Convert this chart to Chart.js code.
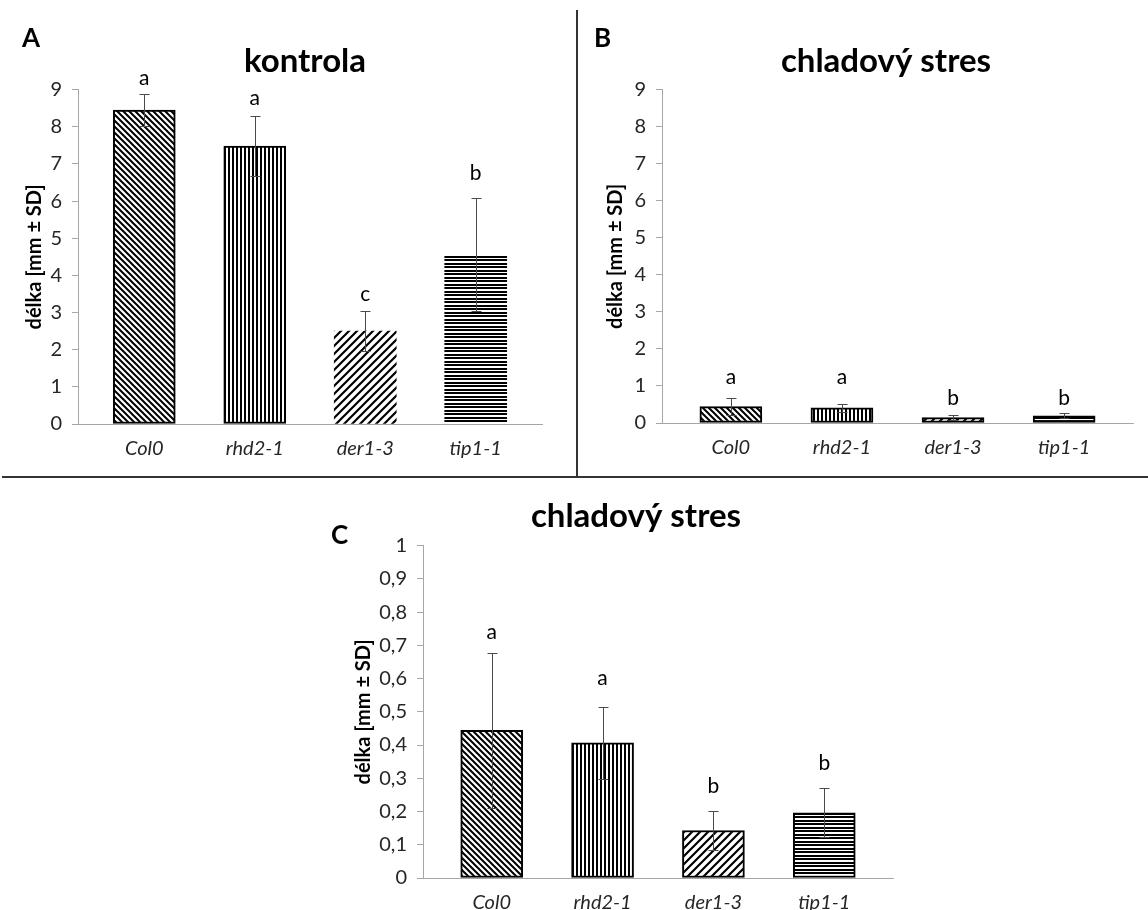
<!DOCTYPE html>
<html><head><meta charset="utf-8">
<script src="https://cdn.jsdelivr.net/npm/chart.js@4.4.1/dist/chart.umd.min.js"></script>
<style>
html,body{margin:0;padding:0;background:#fff;overflow:hidden;width:1148px;height:910px;}
canvas{position:absolute;}
.sep{position:absolute;background:#333;}
.lbl{position:absolute;font-family:Lato,sans-serif;font-weight:bold;font-size:26px;color:#000;line-height:1;}
</style></head><body>
<canvas id="cA" width="577" height="478" style="left:0;top:0"></canvas>
<canvas id="cB" width="571" height="478" style="left:577px;top:0"></canvas>
<canvas id="cC" width="672" height="430" style="left:300px;top:480px"></canvas>
<div class="sep" style="left:576px;top:10px;width:2px;height:468px"></div>
<div class="sep" style="left:2px;top:476px;width:1146px;height:2px"></div>
<div class="lbl" style="left:22px;top:24px">A</div>
<div class="lbl" style="left:594px;top:24px">B</div>
<div class="lbl" style="left:331px;top:521px">C</div>
<script>
// ---- data ----
const categories = ['Col0', 'rhd2-1', 'der1-3', 'tip1-1'];
const kontrolaMean = [8.45, 7.48, 2.50, 4.56];
const kontrolaSD = [0.42, 0.81, 0.54, 1.53];
const kontrolaLetters = ['a', 'a', 'c', 'b'];
const kontrolaLetterY = [9.3, 8.78, 3.5, 6.76];
const chladMean = [0.444, 0.407, 0.143, 0.196];
const chladSD = [0.232, 0.108, 0.060, 0.074];
const chladLetters = ['a', 'a', 'b', 'b'];
const chladLetterYB = [1.24, 1.24, 0.68, 0.68];
const chladLetterYC = [0.738, 0.60, 0.277, 0.346];
const yTicksAB = ['0', '1', '2', '3', '4', '5', '6', '7', '8', '9'];
const yTicksC = ['0', '0,1', '0,2', '0,3', '0,4', '0,5', '0,6', '0,7', '0,8', '0,9', '1'];
const titleA = 'kontrola';
const titleBC = 'chladový stres';
const yTitle = 'délka [mm ± SD]';

// ---- patterns ----
function makePattern(w, h, draw) {
  const c = document.createElement('canvas');
  c.width = w; c.height = h;
  const g = c.getContext('2d');
  g.fillStyle = '#fff'; g.fillRect(0, 0, w, h);
  g.fillStyle = '#000'; g.strokeStyle = '#000';
  draw(g, w, h);
  return g.createPattern(c, 'repeat');
}
const patDiagDown = makePattern(6, 6, (g, s) => {
  g.lineWidth = 2; g.beginPath();
  g.moveTo(-1, -1); g.lineTo(s + 1, s + 1);
  g.moveTo(-1, s - 1); g.lineTo(1, s + 1);
  g.moveTo(s - 1, -1); g.lineTo(s + 1, 1);
  g.stroke();
});
const patVert = makePattern(4, 4, (g) => { g.fillRect(0, 0, 2, 4); });
const patDiagUp = makePattern(8, 8, (g, s) => {
  g.lineWidth = 2.2; g.beginPath();
  g.moveTo(-1, s + 1); g.lineTo(s + 1, -1);
  g.moveTo(-1, 1); g.lineTo(1, -1);
  g.moveTo(s - 1, s + 1); g.lineTo(s + 1, s - 1);
  g.stroke();
});
const patHoriz = makePattern(4, 7, (g) => { g.fillRect(0, 0, 4, 2); g.fillRect(0, 4, 4, 2); });
const fills = [patDiagDown, patVert, patDiagUp, patHoriz];

const FONT = 'Lato, "Open Sans", sans-serif';

function overlayPlugin(means, sds, letters, letterY, titleCenter) {
  return {
    id: 'overlay',
    afterLayout(chart) {
      const tb = chart.titleBlock;
      if (tb) {
        const w = tb.right - tb.left;
        tb.left = titleCenter - w / 2;
        tb.right = titleCenter + w / 2;
      }
    },
    afterDatasetsDraw(chart) {
      const { ctx, scales: { x, y } } = chart;
      ctx.save();
      ctx.strokeStyle = '#4a4a4a';
      ctx.lineWidth = 1;
      means.forEach((m, i) => {
        const px = Math.round(x.getPixelForValue(i)) + 0.5;
        const t = Math.round(y.getPixelForValue(m + sds[i])) + 0.5;
        const b = Math.round(y.getPixelForValue(m - sds[i])) + 0.5;
        ctx.beginPath();
        ctx.moveTo(px, t); ctx.lineTo(px, b);
        ctx.moveTo(px - 5, t); ctx.lineTo(px + 5, t);
        ctx.moveTo(px - 5, b); ctx.lineTo(px + 5, b);
        ctx.stroke();
      });
      ctx.fillStyle = '#000';
      ctx.font = '21px ' + FONT;
      ctx.textAlign = 'center';
      ctx.textBaseline = 'middle';
      letters.forEach((l, i) => {
        ctx.fillText(l, x.getPixelForValue(i), y.getPixelForValue(letterY[i]));
      });
      ctx.restore();
    }
  };
}

function build(id, cfg) {
  const data = categories.map((c, i) => ({ x: i, y: cfg.means[i] }));
  return new Chart(document.getElementById(id), {
    type: 'bar',
    data: {
      datasets: [{
        data: data,
        backgroundColor: fills,
        borderColor: '#000',
        borderWidth: cfg.borders,
        borderSkipped: false,
        barThickness: 62
      }]
    },
    options: {
      responsive: false,
      animation: false,
      devicePixelRatio: 1,
      layout: { padding: { left: 0, right: cfg.padRight, top: 0, bottom: 0 } },
      plugins: {
        legend: { display: false },
        tooltip: { enabled: false },
        title: {
          display: true, text: cfg.title, color: '#000', fullSize: true,
          font: { family: FONT, size: 33, weight: 'bold', lineHeight: 1.2 },
          padding: { top: cfg.titleTop, bottom: cfg.titleBottom }
        }
      },
      scales: {
        x: {
          type: 'linear', offset: false,
          min: cfg.xMin, max: cfg.xMax,
          afterBuildTicks: (s) => { s.ticks = categories.map((c, i) => ({ value: i })); },
          afterFit: (s) => { s.height = cfg.xHeight; },
          ticks: {
            autoSkip: false, maxRotation: 0, padding: 5, color: '#262626',
            font: { family: FONT, size: 20, style: 'italic' },
            callback: (v) => categories[v]
          },
          grid: { display: false },
          border: { display: true, color: '#a6a6a6', width: 1 }
        },
        y: {
          type: 'linear', min: cfg.yMin, max: cfg.yMax,
          afterFit: (s) => { s.width = cfg.yWidth; },
          ticks: {
            stepSize: cfg.step, padding: 10, color: '#262626',
            font: { family: FONT, size: 20 },
            callback: (v, i) => cfg.yLabels[i]
          },
          grid: { display: true, drawOnChartArea: false, drawTicks: true, tickLength: 6, color: '#a6a6a6' },
          border: { display: true, color: '#a6a6a6', width: 1 },
          title: {
            display: true, text: yTitle, color: '#000',
            font: { family: FONT, size: 20, weight: 'bold', lineHeight: 1.2 },
            padding: { top: cfg.yTitlePad, bottom: 0 }
          }
        }
      }
    },
    plugins: [overlayPlugin(cfg.means, cfg.sds, cfg.letters, cfg.letterY, cfg.titleCenter)]
  });
}

build('cA', {
  means: kontrolaMean, sds: kontrolaSD, letters: kontrolaLetters, letterY: kontrolaLetterY,
  borders: [2, 2, 0, 0], title: titleA, titleTop: 42, titleBottom: 8, titleCenter: 305,
  padRight: 35, xMin: -0.6, xMax: 3.6, xHeight: 54,
  yMin: 0, yMax: 9, step: 1, yLabels: yTicksAB, yWidth: 78, yTitlePad: 23
});
build('cB', {
  means: chladMean, sds: chladSD, letters: chladLetters, letterY: chladLetterYB,
  borders: [2, 2, 2, 2], title: titleBC, titleTop: 42, titleBottom: 8, titleCenter: 309,
  padRight: 15, xMin: -0.62, xMax: 3.62, xHeight: 55,
  yMin: 0, yMax: 9, step: 1, yLabels: yTicksAB, yWidth: 85, yTitlePad: 27
});
build('cC', {
  means: chladMean, sds: chladSD, letters: chladLetters, letterY: chladLetterYC,
  borders: [2, 2, 2, 2], title: titleBC, titleTop: 17, titleBottom: 9, titleCenter: 336,
  padRight: 79, xMin: -0.62, xMax: 3.62, xHeight: 32,
  yMin: 0, yMax: 1, step: 0.1, yLabels: yTicksC, yWidth: 123, yTitlePad: 52
});
</script>
</body></html>
